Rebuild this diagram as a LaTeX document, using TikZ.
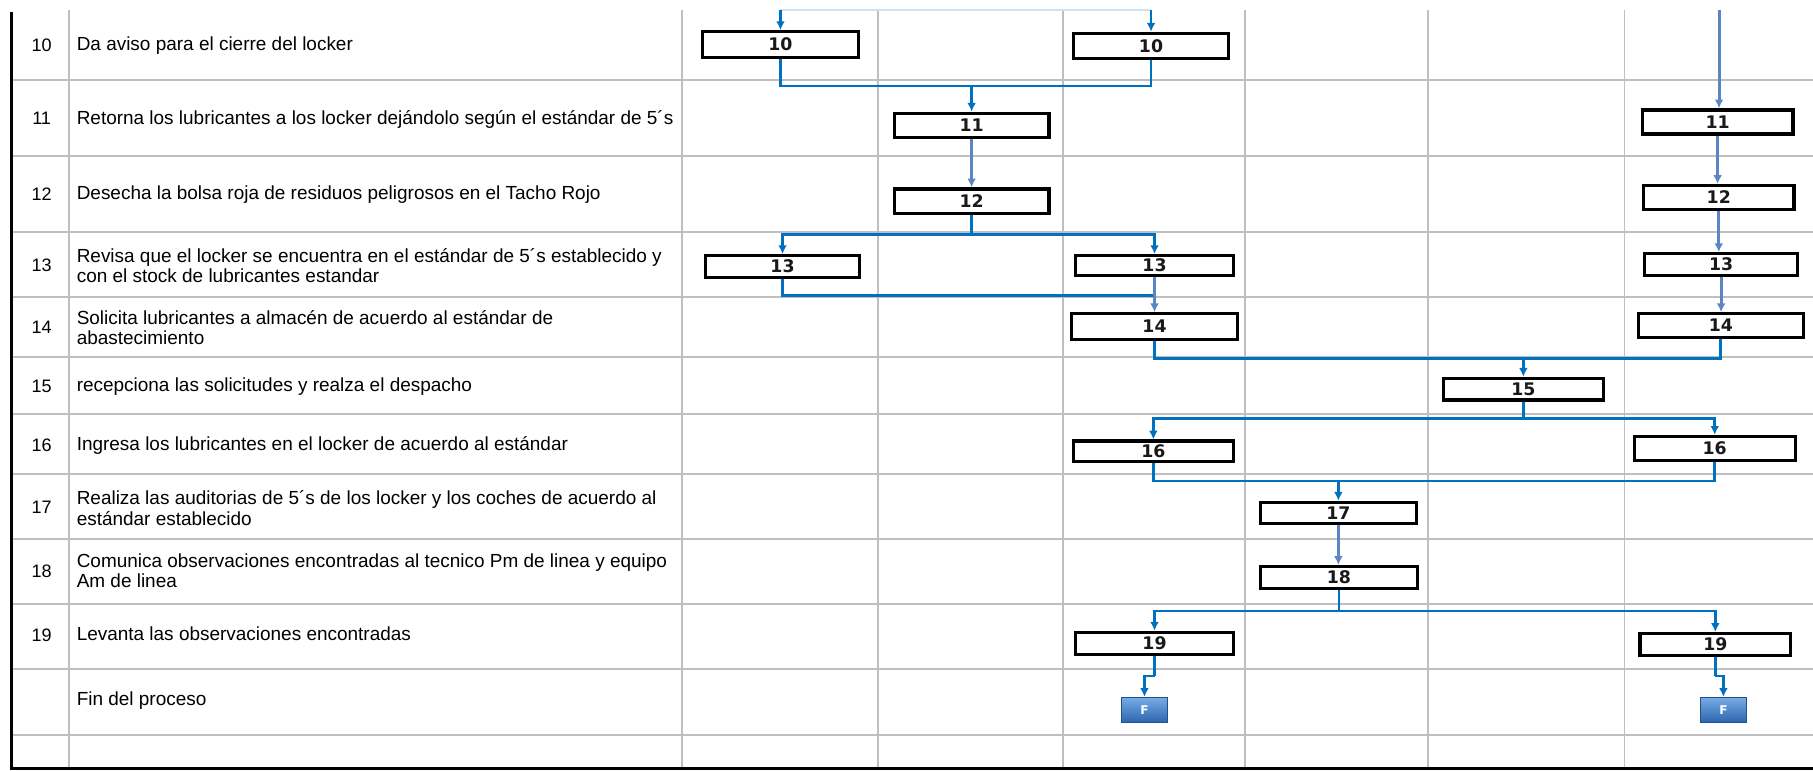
\documentclass[tikz,border=0pt]{standalone}
\usepackage{fontspec}
\setmainfont{Liberation Sans}
\newfontfamily\boxfont{DejaVu Sans}
\usetikzlibrary{arrows.meta}

\definecolor{gridgray}{HTML}{BFBFBF}
\definecolor{flowblue}{HTML}{0070C0}
\definecolor{stepblue}{HTML}{5B86C3}
\definecolor{fadeblue}{HTML}{CFE2F3}
\definecolor{fintop}{HTML}{79ADE6}
\definecolor{finbot}{HTML}{2C64AE}

\tikzset{
  gridline/.style={draw=gridgray, line width=0.8pt},
  frameline/.style={draw=black, line width=1.3pt},
  desc/.style={anchor=west, inner sep=0pt, align=left,
    font=\fontsize{8.2}{8.8}\selectfont},
  num/.style={inner sep=0pt, font=\fontsize{7.8}{8.8}\selectfont},
  nbox/.style={draw=black, line width=1.4pt, fill=white, inner sep=0pt,
    text=black!90, font=\boxfont\bfseries\fontsize{7.5}{8}\selectfont},
  finbox/.style={inner sep=0pt, minimum width=20pt, minimum height=11pt,
    top color=fintop, bottom color=finbot, draw=finbot!80!black, line width=0.3pt,
    text=white, font=\boxfont\bfseries\fontsize{5.2}{6}\selectfont},
  flow/.style={draw=flowblue, line width=1.2pt},
  flowarrow/.style={flow, -{Latex[length=3.8pt,width=3.8pt]}},
  steparrow/.style={draw=stepblue, line width=1.3pt, -{Latex[length=3.8pt,width=3.8pt]}}
}

\begin{document}
\begin{tikzpicture}[x=0.5pt,y=-0.5pt]
\useasboundingbox (0,0) rectangle (1568,666);

% table grid
\foreach \gx in {60,590,759,919,1077,1235,1405}
  \draw[gridline] (\gx,9) -- (\gx,664);
\foreach \gy in {69,135,200.5,256.5,308.5,358,410,466,522,578.5,635.5}
  \draw[gridline] (10,\gy) -- (1568,\gy);
\draw[frameline] (10,10) -- (10,665) -- (1568,665);

% step numbers
\node[num] (n10) at (36,39) {10};
\node[num] (n11) at (36,102) {11};
\node[num] (n12) at (36,168) {12};
\node[num] (n13) at (36,229) {13};
\node[num] (n14) at (36,283) {14};
\node[num] (n15) at (36,334) {15};
\node[num] (n16) at (36,385) {16};
\node[num] (n17) at (36,439) {17};
\node[num] (n18) at (36,494) {18};
\node[num] (n19) at (36,549) {19};

% step descriptions
\node[desc] (t10) at (66,39) {Da aviso para el cierre del locker};
\node[desc] (t11) at (66,103) {Retorna los lubricantes a los locker dejándolo según el estándar de 5´s};
\node[desc] (t12) at (66,168) {Desecha la bolsa roja de residuos peligrosos en el Tacho Rojo};
\node[desc] (t13) at (66,229.5) {Revisa que el locker se encuentra en el estándar de 5´s establecido y\\con el stock de lubricantes estandar};
\node[desc] (t14) at (66,283.5) {Solicita lubricantes a almacén de acuerdo al estándar de\\abastecimiento};
\node[desc] (t15) at (66,334.5) {recepciona las solicitudes y realza el despacho};
\node[desc] (t16) at (66,385) {Ingresa los lubricantes en el locker de acuerdo al estándar};
\node[desc] (t17) at (66,439.5) {Realiza las auditorias de 5´s de los locker y los coches de acuerdo al\\estándar establecido};
\node[desc] (t18) at (66,493.5) {Comunica observaciones encontradas al tecnico Pm de linea y equipo\\Am de linea};
\node[desc] (t19) at (66,548.5) {Levanta las observaciones encontradas};
\node[desc] (tfin) at (66,606) {Fin del proceso};

% activity boxes
\node[nbox, minimum width=67.6pt, minimum height=11.1pt] (b10a) at (675,38.5) {10};
\node[nbox, minimum width=67.1pt, minimum height=10.9pt] (b10b) at (995.5,39.7) {10};
\node[nbox, minimum width=66.85pt, minimum height=10.55pt] (b11a) at (840.3,108.5) {11};
\node[nbox, minimum width=65.2pt, minimum height=10.45pt] (b11b) at (1485.5,105.5) {11};
\node[nbox, minimum width=66.85pt, minimum height=10.6pt] (b12a) at (840.3,174) {12};
\node[nbox, minimum width=65.1pt, minimum height=10.35pt] (b12b) at (1486.5,170.8) {12};
\node[nbox, minimum width=66.8pt, minimum height=9.4pt] (b13a) at (676.8,230.5) {13};
\node[nbox, minimum width=68.1pt, minimum height=8.6pt] (b13b) at (998.5,229.7) {13};
\node[nbox, minimum width=66.1pt, minimum height=9.35pt] (b13c) at (1488.5,228.8) {13};
\node[nbox, minimum width=71.55pt, minimum height=11pt] (b14a) at (998.5,282.4) {14};
\node[nbox, minimum width=71.35pt, minimum height=10.1pt] (b14b) at (1488.3,281.5) {14};
\node[nbox, minimum width=69.1pt, minimum height=9.4pt] (b15) at (1317.5,336.6) {15};
\node[nbox, minimum width=69.1pt, minimum height=8.85pt] (b16a) at (997.5,390.3) {16};
\node[nbox, minimum width=69.6pt, minimum height=10.35pt] (b16b) at (1483,387.8) {16};
\node[nbox, minimum width=67.6pt, minimum height=9.1pt] (b17) at (1157.5,443.5) {17};
\node[nbox, minimum width=67.6pt, minimum height=9.4pt] (b18) at (1158,499.4) {18};
\node[nbox, minimum width=68.6pt, minimum height=9.55pt] (b19a) at (998.5,556.4) {19};
\node[nbox, minimum width=65.1pt, minimum height=9.35pt] (b19b) at (1483.5,557.3) {19};

% end markers
\node[finbox] (fa) at (989.8,614) {F};
\node[finbox] (fb) at (1490.5,614) {F};

% incoming flow from the previous steps
\coordinate (inA) at (675,9);
\coordinate (inB) at (995.5,9);
\coordinate (inC) at (1486.7,9);
\draw[draw=fadeblue, line width=0.9pt] (inA) -- (inB);
\draw[flowarrow] (inA) -- (b10a.north);
\draw[flowarrow] (inB) -- (b10b.north);
\draw[steparrow] (inC) -- (inC |- b11b.north);

% junction points
\coordinate (j10) at (840.3,74.4);
\coordinate (j12) at (840.3,202.7);
\coordinate (j13) at (998.5,255.7);
\coordinate (j14) at (1317.5,309.8);
\coordinate (j15) at (1317.5,361.6);
\coordinate (j16) at (1157.5,416);
\coordinate (j18) at (1158,528.4);
\coordinate (ja) at (998.5,584.6);
\coordinate (jb) at (1483.5,584.6);

% step 10 -> 11
\draw[flow] (b10a.south) |- (j10);
\draw[flow] (b10b.south) |- (j10);
\draw[flowarrow] (j10) -- (b11a.north);

% 11 -> 12 -> 13
\draw[steparrow] (b11a.south) -- (b12a.north);
\draw[flow] (b12a.south) -- (j12);
\draw[flowarrow] (j12) -| (b13a.north);
\draw[flowarrow] (j12) -| (b13b.north);

% right lane 11 -> 14
\draw[steparrow] (b11b.south) -- (b11b.south |- b12b.north);
\draw[steparrow] (b12b.south) -- (b12b.south |- b13c.north);
\draw[steparrow] (b13c.south) -- (b13c.south |- b14b.north);

% 13 -> 14
\draw[flow] (b13a.south) |- (j13);
\draw[steparrow] (b13b.south) -- (b14a.north);

% 14 -> 15 -> 16
\draw[flow] (b14a.south) |- (j14);
\draw[flow] (b14b.south) |- (j14);
\draw[flowarrow] (j14) -- (b15.north);
\draw[flow] (b15.south) -- (j15);
\draw[flowarrow] (j15) -| (b16a.north);
\draw[flowarrow] (j15) -| (b16b.north);

% 16 -> 17 -> 18 -> 19
\draw[flow] (b16a.south) |- (j16);
\draw[flow] (b16b.south) |- (j16);
\draw[flowarrow] (j16) -- (b17.north);
\draw[steparrow] (b17.south) -- (b17.south |- b18.north);
\draw[flow] (b18.south) -- (j18);
\draw[flowarrow] (j18) -| (b19a.north);
\draw[flowarrow] (j18) -| (b19b.north);

% 19 -> end
\draw[flow] (b19a.south) -- (ja);
\draw[flowarrow] (ja) -| (fa.north);
\draw[flow] (b19b.south) -- (jb);
\draw[flowarrow] (jb) -| (fb.north);
\end{tikzpicture}
\end{document}
